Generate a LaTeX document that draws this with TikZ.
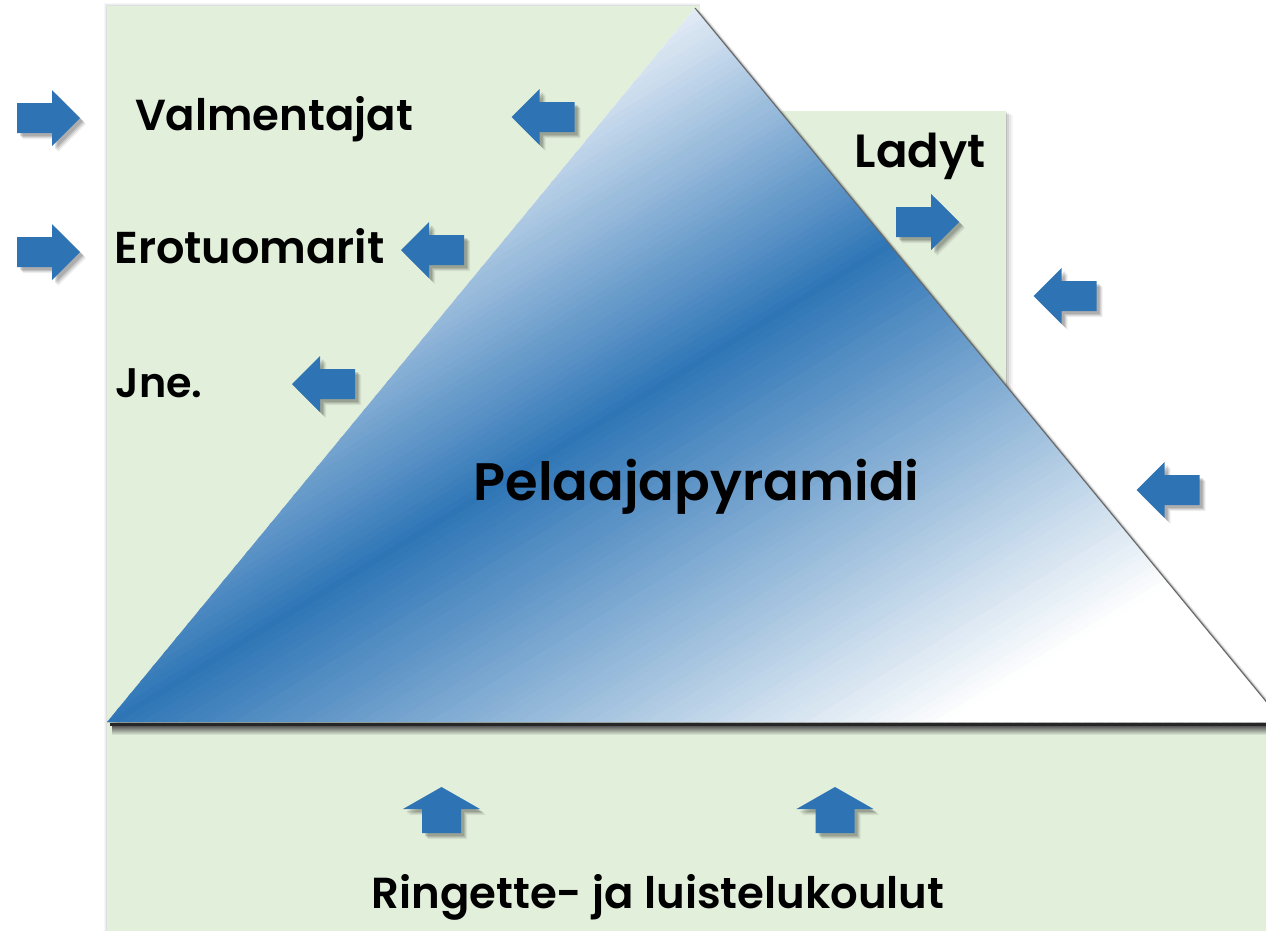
\documentclass[tikz,border=0pt]{standalone}
\usepackage{fontspec}
\setmainfont{Poppins}[UprightFont={* SemiBold}]
\definecolor{panel}{HTML}{E2EFDA}
\definecolor{pdark}{HTML}{2E75B6}
\definecolor{plight}{HTML}{E6EEF7}
\definecolor{arrowblue}{HTML}{2E74B5}
\tikzset{
  x=0.02cm, y=-0.02cm,
  panelbox/.style={fill=panel},
  shadowlayer/.style={fill=black, opacity=#1},
  lbl/.style={font=\fontsize{25}{30}\selectfont, text=black, inner sep=0pt, anchor=base},
  pics/rarrow/.style={code={
    \foreach \s/\o in {6/0.06,5/0.08,4/0.1,3/0.12}{
      \path[shadowlayer=\o, shift={(\s,\s)}] (-31.5,-15) -- (3.5,-15) -- (3.5,-28) -- (31.5,0) -- (3.5,28) -- (3.5,15) -- (-31.5,15) -- cycle;}
    \path[fill=arrowblue] (-31.5,-15) -- (3.5,-15) -- (3.5,-28) -- (31.5,0) -- (3.5,28) -- (3.5,15) -- (-31.5,15) -- cycle;}},
  pics/larrow/.style={code={
    \foreach \s/\o in {6/0.06,5/0.08,4/0.1,3/0.12}{
      \path[shadowlayer=\o, shift={(\s,\s)}] (31.5,-15) -- (-3.5,-15) -- (-3.5,-28) -- (-31.5,0) -- (-3.5,28) -- (-3.5,15) -- (31.5,15) -- cycle;}
    \path[fill=arrowblue] (31.5,-15) -- (-3.5,-15) -- (-3.5,-28) -- (-31.5,0) -- (-3.5,28) -- (-3.5,15) -- (31.5,15) -- cycle;}},
  pics/uarrow/.style={code={
    \foreach \s/\o in {6/0.06,5/0.08,4/0.1,3/0.12}{
      \path[shadowlayer=\o, shift={(\s,\s)}] (-19.5,23) -- (-19.5,-1) -- (-38.5,-1) -- (0,-23) -- (38.5,-1) -- (19.5,-1) -- (19.5,23) -- cycle;}
    \path[fill=arrowblue] (-19.5,23) -- (-19.5,-1) -- (-38.5,-1) -- (0,-23) -- (38.5,-1) -- (19.5,-1) -- (19.5,23) -- cycle;}},
}
\begin{document}
\begin{tikzpicture}
\useasboundingbox (0,0) rectangle (1266,931);
\fill[white] (0,0) rectangle (1266,931);
\clip (0,0) rectangle (1266,931);
% panels
\foreach \s/\o in {-3/0.03,-2/0.04,-1/0.05}{
  \path[shadowlayer=\o] ({107+\s},{6+\s}) rectangle (700,931);}
\path[panelbox] (107,6) rectangle (700,931);
\foreach \s/\o in {7/0.04,5/0.06,3/0.08,1/0.1}{
  \path[shadowlayer=\o] (700,{111+\s/2}) rectangle ({1006+\s},700);}
\path[panelbox] (700,111) rectangle (1006,700);
\path[panelbox] (107,724) rectangle (1266,931);
% pyramid
\foreach \s/\o in {7/0.06,5/0.09,3/0.13,1.5/0.18}{
  \path[shadowlayer=\o, shift={(\s,\s*0.6)}] (695,8) -- (107,722) -- (1283,722) -- cycle;}
\path[fill=white] (695,8) -- (107,722) -- (1283,722) -- cycle;
\begin{scope}
\clip (695,8) -- (107,722) -- (1283,722) -- cycle;
\foreach \d in {-336,-330,...,630}{
  \ifnum\d<0
    \pgfmathtruncatemacro\p{max(0,100+\d/3.1)}
    \colorlet{stripe}{pdark!\p!plight}
  \else
    \pgfmathtruncatemacro\p{max(0,100-\d/4.4)}
    \colorlet{stripe}{pdark!\p!white}
  \fi
  \fill[stripe] ({107+\d*0.523-1704},{722+\d*0.852+1046}) -- ({107+\d*0.523+1704},{722+\d*0.852-1046}) -- ({107+(\d+7)*0.523+1704},{722+(\d+7)*0.852-1046}) -- ({107+(\d+7)*0.523-1704},{722+(\d+7)*0.852+1046}) -- cycle;
}
\end{scope}
\draw[black!60, line width=0.6pt] (695,8) -- (1283,722);
% base line
\fill[black!85] (110,723) rectangle (1266,726);
\shade[top color=black!65, bottom color=panel] (112,726) rectangle (1266,735);
% arrows
\pic at (48.5,118) {rarrow};
\pic at (48.5,252) {rarrow};
\pic at (543,117) {larrow};
\pic at (432.5,250) {larrow};
\pic at (323.5,384) {larrow};
\pic at (927.5,222) {rarrow};
\pic at (1065,296) {larrow};
\pic at (1168,490) {larrow};
\pic at (441.5,810) {uarrow};
\pic at (835,810) {uarrow};
% labels
\node[lbl, font=\fontsize{24.7}{29}\selectfont] (valm) at (274,130) {Valmentajat};
\node[lbl, font=\fontsize{25.4}{30}\selectfont] (ero) at (249.5,263) {Erotuomarit};
\node[lbl, font=\fontsize{23.5}{28}\selectfont] (jne) at (159,397) {Jne.};
\node[lbl, font=\fontsize{26.5}{31}\selectfont] (ladyt) at (920,167) {Ladyt};
\node[lbl, font=\fontsize{30}{35}\selectfont] (pyr) at (696.5,500) {Pelaajapyramidi};
\node[lbl, font=\fontsize{24.7}{29}\selectfont] (ring) at (658,908) {Ringette- ja luistelukoulut};
\end{tikzpicture}
\end{document}
